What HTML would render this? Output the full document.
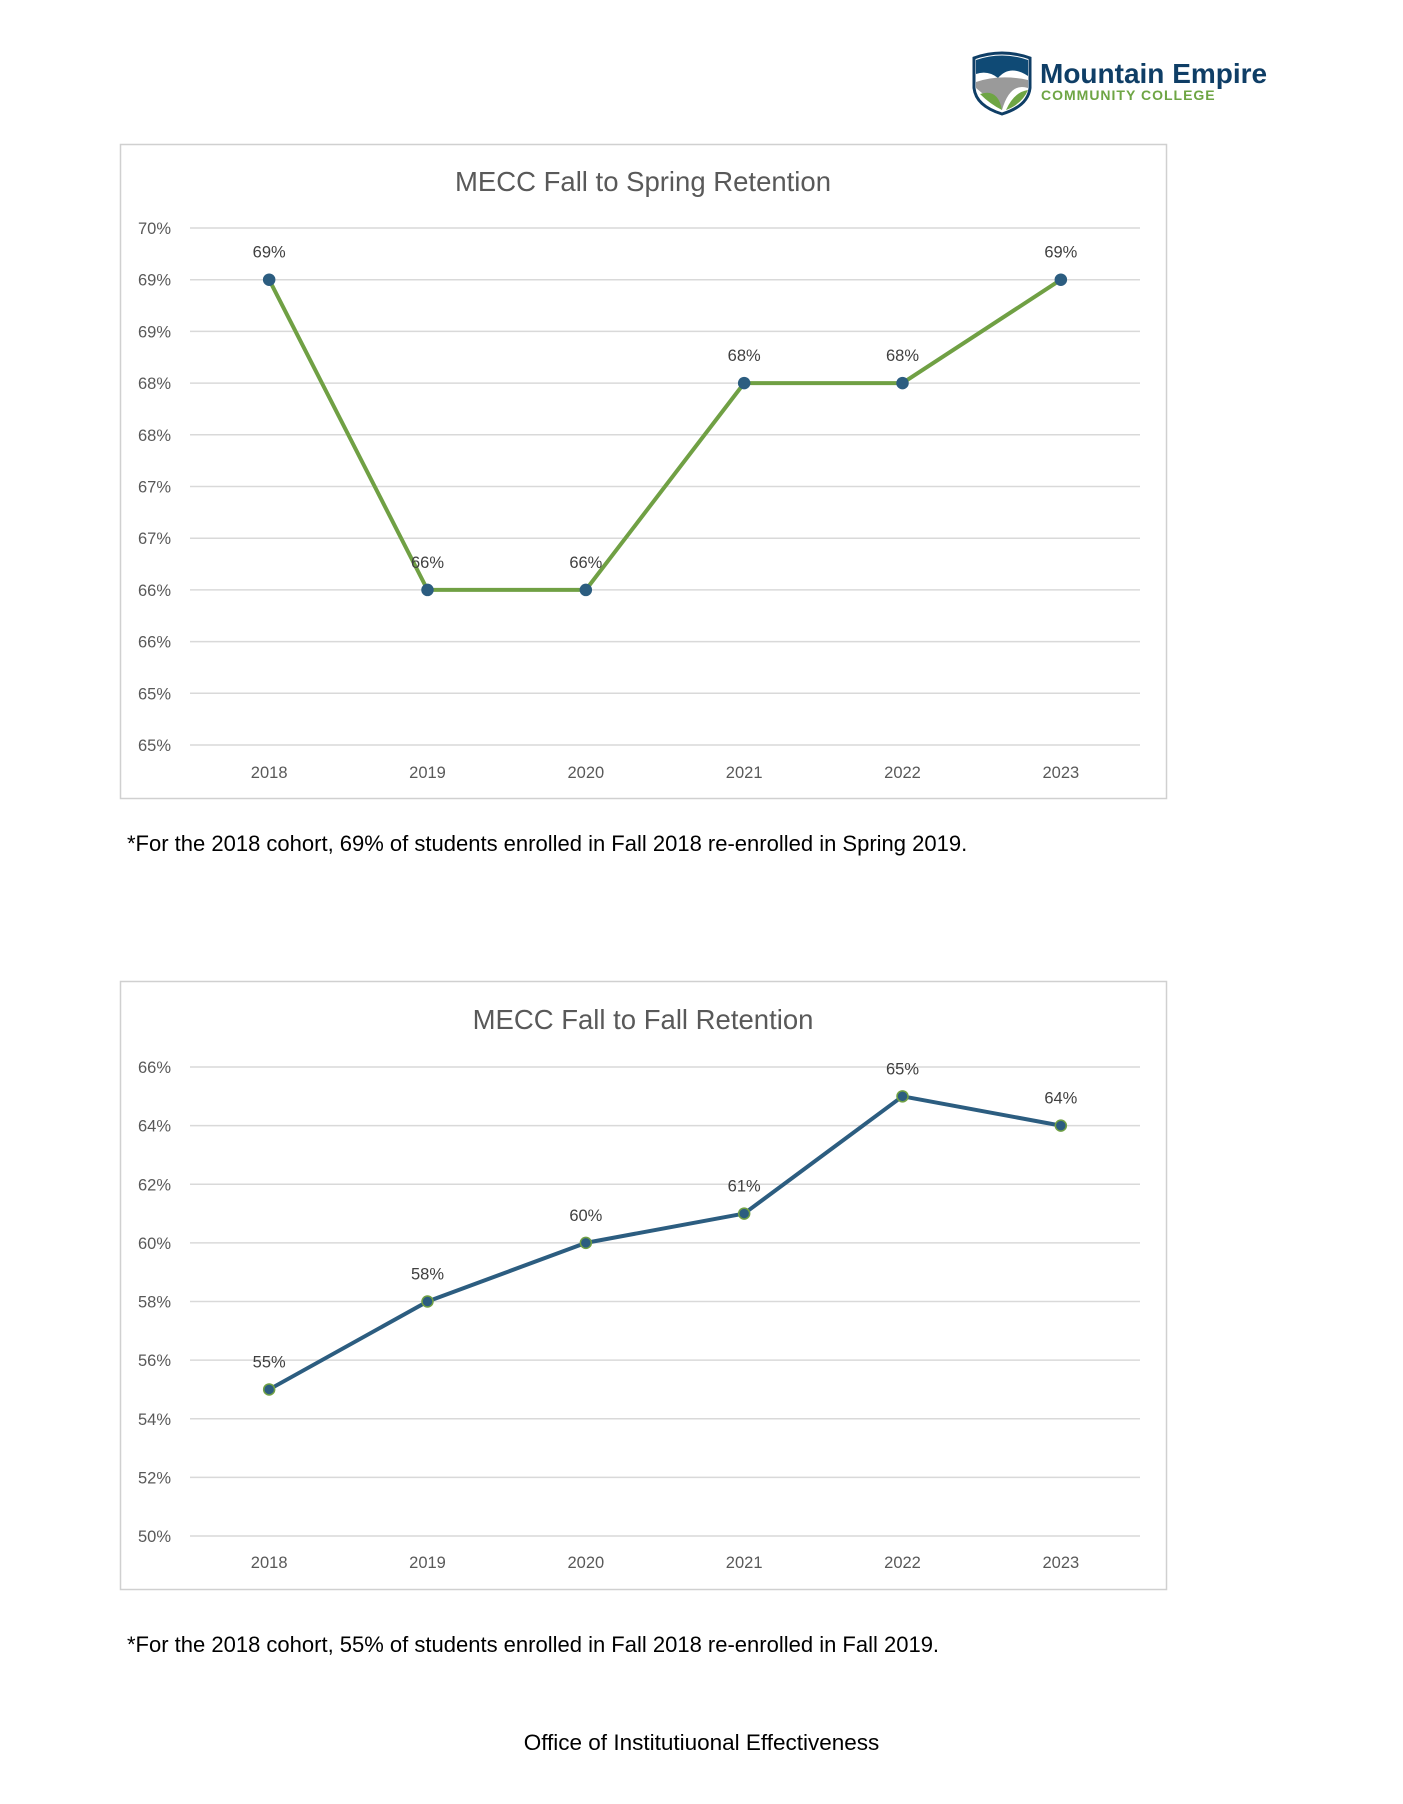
<!DOCTYPE html>
<html><head><meta charset="utf-8">
<style>
body{margin:0;background:#fff;width:1403px;height:1804px;position:relative;font-family:"Liberation Sans",sans-serif;overflow:hidden}
.note{position:absolute;left:127px;font-size:22px;color:#000}
</style></head><body>
<svg id="logo" style="position:absolute;left:970px;top:48px" width="320" height="70">
 <path d="M4 10 Q32 0 60 10 L60 40 Q58 58 32 66 Q6 58 4 40 Z" fill="#fff" stroke="#0f3e66" stroke-width="3"/>
 <path d="M6 12 Q32 3 58 12 L58 28 Q40 16 28 30 Q18 22 6 26Z" fill="#0f4a75"/>
 <path d="M6 34 Q30 26 58 32 L58 40 Q40 34 32 62 Q18 50 6 40Z" fill="#9a9a9a"/>
 <path d="M10 46 Q28 40 32 62 Q20 56 10 46Z M58 42 Q44 44 36 62 Q52 56 58 42Z" fill="#6ea544"/>
 <text x="70" y="35" font-size="28" font-weight="bold" fill="#0f3e66">Mountain Empire</text>
 <text x="71" y="52" font-size="14" font-weight="bold" fill="#6ea544" letter-spacing="1">COMMUNITY COLLEGE</text>
</svg>
<svg id="c1" style="position:absolute;left:0;top:0" width="1403" height="820"></svg>
<div class="note" style="top:831px">*For the 2018 cohort, 69% of students enrolled in Fall 2018 re-enrolled in Spring 2019.</div>
<svg id="c2" style="position:absolute;left:0;top:0" width="1403" height="1620"></svg>
<div class="note" style="top:1632px">*For the 2018 cohort, 55% of students enrolled in Fall 2018 re-enrolled in Fall 2019.</div>
<div style="position:absolute;left:0;width:1403px;text-align:center;top:1730px;font-size:22.5px">Office of Institutiuonal Effectiveness</div>
<script>
const years = ["2018","2019","2020","2021","2022","2023"];
const springValues = [69.5,66.5,66.5,68.5,68.5,69.5];
const springLabels = ["69%","66%","66%","68%","68%","69%"];
const springTicks = [70,69.5,69,68.5,68,67.5,67,66.5,66,65.5,65];
const springTickLabels = ["70%","69%","69%","68%","68%","67%","67%","66%","66%","65%","65%"];
const fallValues = [55,58,60,61,65,64];
const fallLabels = ["55%","58%","60%","61%","65%","64%"];
const fallTicks = [66,64,62,60,58,56,54,52,50];
const fallTickLabels = ["66%","64%","62%","60%","58%","56%","54%","52%","50%"];
const NS="http://www.w3.org/2000/svg";
function mk(svg,tag,attrs,txt){const e=document.createElementNS(NS,tag);for(const k in attrs)e.setAttribute(k,attrs[k]);if(txt!==undefined)e.textContent=txt;svg.appendChild(e);return e;}
function chart(svg,o){
 const box=mk(svg,'rect',{x:120.5,y:o.top+.5,width:1046,height:o.h,fill:'#fff',stroke:'#d0d0d0','stroke-width':1.5});
 
 
 const t=mk(svg,'text',{x:643,y:o.titleY,'text-anchor':'middle','font-size':27.5,fill:'#595959'},o.title);
 
 
 const x0=190,x1=1140,step=(x1-x0)/years.length;
 const xs=i=>x0+step*(i+0.5);
 const ys=v=>o.yTop+(o.max-v)/(o.max-o.min)*(o.yBot-o.yTop);
 o.ticks.forEach((v,i)=>{
  const g=mk(svg,'line',{x1:x0,x2:x1,y1:ys(v),y2:ys(v),stroke:'#d9d9d9','stroke-width':1.5});
  
  
  const l=mk(svg,'text',{x:171,y:ys(v)+6,'text-anchor':'end','font-size':16.5,fill:'#595959'},o.tickLabels[i]);
  
  
 });
 years.forEach((y,i)=>{
  const l=mk(svg,'text',{x:xs(i),y:o.xLabY,'text-anchor':'middle','font-size':16.5,fill:'#595959'},y);
  
  
 });
 const pts=o.vals.map((v,i)=>xs(i)+','+ys(v)).join(' ');
 const pl=mk(svg,'polyline',{points:pts,fill:'none',stroke:o.line,'stroke-width':4,'stroke-linejoin':'round'});
 
 
 o.vals.forEach((v,i)=>{
  const c=mk(svg,'circle',{cx:xs(i),cy:ys(v),r:5.5,fill:'#2c5d80',stroke:o.mstroke,'stroke-width':1.5});
  
  
  const l=mk(svg,'text',{x:xs(i),y:ys(v)-22,'text-anchor':'middle','font-size':16.5,fill:'#404040'},o.labels[i]);
  
  
 });
}
chart(document.getElementById('c1'),{top:144,h:654,title:'MECC Fall to Spring Retention',titleY:191,yTop:228,yBot:745,max:70,min:65,ticks:springTicks,tickLabels:springTickLabels,vals:springValues,labels:springLabels,xLabY:778,line:'#70a044',mstroke:'#2c5d80'});
chart(document.getElementById('c2'),{top:981,h:608,title:'MECC Fall to Fall Retention',titleY:1029,yTop:1067,yBot:1536,max:66,min:50,ticks:fallTicks,tickLabels:fallTickLabels,vals:fallValues,labels:fallLabels,xLabY:1568,line:'#2c5d80',mstroke:'#70a044'});
</script>
</body></html>
